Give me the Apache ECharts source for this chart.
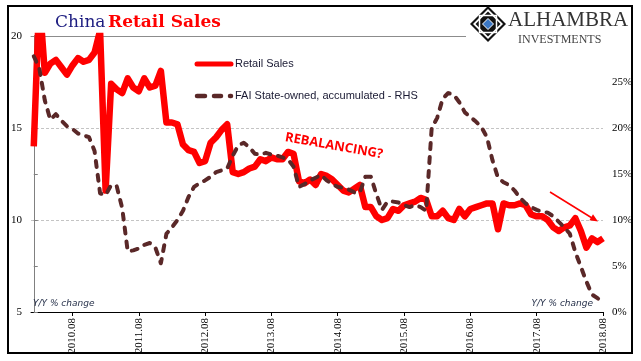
<!DOCTYPE html>
<html>
<head>
<meta charset="utf-8">
<script src="https://cdn.jsdelivr.net/npm/echarts@6/dist/echarts.min.js"></script>
<style>html,body{margin:0;padding:0;background:#fff}#c{width:641px;height:361px}</style>
</head>
<body>
<div id="c"></div>
<script>
// Month index 0 = 2010.01 ... 103 = 2018.08
const retail = [14.0, 22.1, 18.0, 18.5, 18.7, 18.3, 17.9, 18.4, 18.8, 18.6, 18.7, 19.1,
  20.3, 11.6, 17.4, 17.1, 16.9, 17.7, 17.2, 17.0, 17.7, 17.2, 17.3, 18.1,
  15.3, 15.3, 15.2, 14.1, 13.8, 13.7, 13.1, 13.2, 14.2, 14.5, 14.9, 15.2,
  12.6, 12.5, 12.6, 12.8, 12.9, 13.3, 13.2, 13.4, 13.3, 13.3, 13.7, 13.6,
  12.1, 12.0, 12.2, 11.9, 12.5, 12.4, 12.2, 11.9, 11.6, 11.5, 11.7, 11.9,
  10.7, 10.7, 10.2, 10.0, 10.1, 10.6, 10.5, 10.8, 10.9, 11.0, 11.2, 11.1,
  10.2, 10.2, 10.5, 10.1, 10.0, 10.6, 10.2, 10.6, 10.7, 10.8, 10.9, 10.9,
  9.5, 10.9, 10.8, 10.8, 10.9, 10.8, 10.3, 10.2, 10.2, 10.0, 9.6, 9.4,
  9.6, 9.7, 10.1, 9.4, 8.5, 9.0, 8.8, 9.0];
const fai = [27.8, 26.5, 23.0, 20.9, 21.5, 20.8, 20.2, 19.9, 19.4, 19.2, 19.0, 17.5,
  12.9, 12.7, 13.8, 13.7, 11.3, 6.6, 6.7, 6.9, 7.3, 7.5, 7.0, 5.3,
  8.5, 9.2, 10.0, 11.0, 12.5, 13.6, 14.0, 14.3, 14.7, 15.2, 15.4, 15.6,
  17.0, 18.1, 18.4, 17.9, 17.2, 17.1, 17.3, 17.1, 17.0, 16.8, 16.6, 15.8,
  13.6, 13.9, 14.3, 14.6, 14.9, 14.3, 13.9, 13.6, 13.5, 13.3, 13.0, 13.0,
  14.7, 14.7, 12.8, 11.1, 12.0, 12.0, 11.9, 11.6, 11.4, 11.6, 11.4, 11.0,
  20.0, 21.1, 23.2, 23.8, 23.6, 22.8, 21.7, 21.2, 20.7, 20.1, 19.0, 16.5,
  14.6, 14.1, 13.8, 13.2, 12.4, 11.8, 11.4, 11.1, 10.9, 10.8, 10.4, 9.8,
  9.2, 8.5, 6.5, 4.9, 3.3, 1.9, 1.5, 1.1];
const tickLabels = ['2010.08', '2011.08', '2012.08', '2013.08', '2014.08', '2015.08', '2016.08', '2017.08', '2018.08'];
const tickPos = [7, 19, 31, 43, 55, 67, 79, 91, 103];
const leftTicks = [5, 10, 15, 20];
const rightTicks = [0, 5, 10, 15, 20, 25, 30];
const seriesNames = ['Retail Sales', 'FAI State-owned, accumulated - RHS'];

const chart = echarts.init(document.getElementById('c'), null, {renderer: 'canvas'});
const serif = 'Liberation Serif';
const cx = 488, cy = 24;
function diamond(r) { return [[cx, cy - r], [cx + r, cy], [cx, cy + r], [cx - r, cy]]; }
const RED = '#ff0000', BROWN = '#5a2828';

chart.setOption({
  animation: false,
  backgroundColor: '#fff',
  grid: {left: 31, right: 38, top: 36, bottom: 49},
  xAxis: [{
    type: 'value', min: -0.5, max: 103, position: 'bottom',
    axisLine: {onZero: false, lineStyle: {color: '#000', width: 1}},
    axisTick: {show: true, customValues: tickPos, length: 4, lineStyle: {color: '#000'}},
    axisLabel: {customValues: tickPos, rotate: 90, margin: 6, fontFamily: serif, fontSize: 11, color: '#000',
      formatter: v => tickLabels[tickPos.indexOf(v)] || ''},
    splitLine: {show: false}
  }, {
    type: 'value', min: -0.5, max: 103, position: 'top',
    axisLine: {show: true, onZero: false, lineStyle: {color: '#8c8c8c', width: 1}},
    axisTick: {show: false}, axisLabel: {show: false}, splitLine: {show: false}
  }],
  yAxis: [{
    type: 'value', min: leftTicks[0], max: leftTicks[leftTicks.length - 1], interval: 5, position: 'left',
    axisLine: {show: true, lineStyle: {color: '#000', width: 1}},
    axisTick: {show: false},
    axisLabel: {margin: 9, fontFamily: serif, fontSize: 11, color: '#000'},
    splitLine: {show: true, lineStyle: {color: '#c4c4c4', type: [3, 2], width: 1}}
  }, {
    type: 'value', min: rightTicks[0], max: rightTicks[rightTicks.length - 1], interval: 5, position: 'right',
    axisLine: {show: true, lineStyle: {color: '#808080', width: 1}},
    axisTick: {show: true, length: 4, lineStyle: {color: '#808080'}},
    axisLabel: {margin: 9, fontFamily: serif, fontSize: 11, color: '#000',
      formatter: v => v >= 30 ? '' : v + '%'},
    splitLine: {show: false}
  }],
  series: [{
    name: seriesNames[0], type: 'line', xAxisIndex: 0, yAxisIndex: 0,
    data: retail.map((v, i) => [i, v]),
    symbol: 'none', z: 2,
    lineStyle: {color: RED, width: 6.5, join: 'round'},
    itemStyle: {color: RED}
  }, {
    name: seriesNames[1], type: 'line', xAxisIndex: 0, yAxisIndex: 1,
    data: fai.map((v, i) => [i, v]),
    symbol: 'none', z: 3,
    lineStyle: {color: BROWN, width: 4, type: [6, 8], cap: 'round', join: 'round'},
    itemStyle: {color: BROWN}
  }],
  graphic: [
    {type: 'rect', z: 100, silent: true, shape: {x: 8, y: 6, width: 624, height: 347},
      style: {fill: 'none', stroke: '#000', lineWidth: 2}},
    {type: 'text', z: 100, x: 55, y: 23, style: {text: 'China', font: '17px "DejaVu Serif"', fill: '#1c1c80', verticalAlign: 'middle'}},
    {type: 'text', z: 100, x: 108, y: 23, style: {text: 'Retail Sales', font: 'bold 17px "DejaVu Serif"', fill: RED, verticalAlign: 'middle'}},
    // legend
    {type: 'line', z: 100, shape: {x1: 197, y1: 64, x2: 231, y2: 64}, style: {stroke: RED, lineWidth: 5, lineCap: 'round'}},
    {type: 'text', z: 100, x: 235, y: 64, style: {text: seriesNames[0], font: '11px "Liberation Sans"', fill: '#1a1a33', verticalAlign: 'middle'}},
    {type: 'line', z: 100, shape: {x1: 197, y1: 96, x2: 205, y2: 96}, style: {stroke: BROWN, lineWidth: 4.5, lineCap: 'round'}},
    {type: 'line', z: 100, shape: {x1: 214, y1: 96, x2: 221, y2: 96}, style: {stroke: BROWN, lineWidth: 4.5, lineCap: 'round'}},
    {type: 'line', z: 100, shape: {x1: 230, y1: 96, x2: 231, y2: 96}, style: {stroke: BROWN, lineWidth: 4.5, lineCap: 'round'}},
    {type: 'text', z: 100, x: 235, y: 96, style: {text: seriesNames[1], font: '11px "Liberation Sans"', fill: '#1a1a33', verticalAlign: 'middle'}},
    // logo
    {type: 'rect', z: 100, shape: {x: 466, y: 7, width: 165, height: 40}, style: {fill: '#fff'}},
    {type: 'polygon', z: 101, shape: {points: diamond(18)}, style: {fill: '#111'}},
    {type: 'polygon', z: 101, shape: {points: diamond(15)}, style: {fill: '#fff'}},
    {type: 'polygon', z: 101, shape: {points: diamond(12.5)}, style: {fill: '#111'}},
    {type: 'rect', z: 102, shape: {x: cx - 8.5, y: cy - 8.5, width: 17, height: 17}, style: {fill: 'none', stroke: '#fff', lineWidth: 1.5}},
    {type: 'polygon', z: 103, shape: {points: diamond(5.5)}, style: {fill: '#3b78c6', stroke: '#fff', lineWidth: 1}},
    {type: 'text', z: 101, x: 508, y: 20.5, style: {text: 'ALHAMBRA', font: '21px "Liberation Serif"', fill: '#333', verticalAlign: 'middle'}},
    {type: 'text', z: 101, x: 518, y: 39.5, style: {text: 'INVESTMENTS', font: '12px "Liberation Serif"', fill: '#444', verticalAlign: 'middle'}},
    // annotations
    {type: 'text', z: 100, x: 334, y: 146, rotation: -0.175,
      style: {text: 'REBALANCING?', font: 'bold 13px "Open Sans"', fill: RED, align: 'center', verticalAlign: 'middle'}},
    {type: 'line', z: 100, shape: {x1: 550, y1: 192, x2: 592, y2: 218}, style: {stroke: RED, lineWidth: 1.5}},
    {type: 'polygon', z: 100, shape: {points: [[598, 221.5], [589.4, 220.3], [593.0, 214.3]]}, style: {fill: RED}},
    {type: 'text', z: 100, x: 33, y: 304, style: {text: 'Y/Y % change', font: 'italic 9px "DejaVu Sans"', fill: '#1f2a44', verticalAlign: 'middle'}},
    {type: 'text', z: 100, x: 593, y: 304, style: {text: 'Y/Y % change', font: 'italic 9px "DejaVu Sans"', fill: '#1f2a44', align: 'right', verticalAlign: 'middle'}}
  ]
});
</script>
</body>
</html>
